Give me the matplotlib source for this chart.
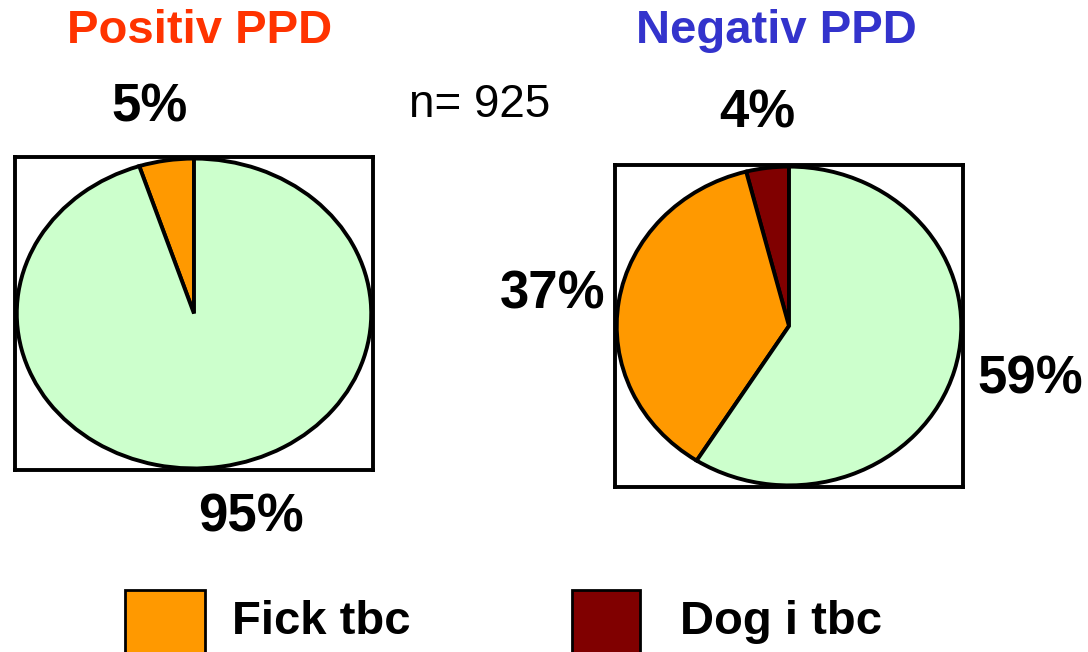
import matplotlib.pyplot as plt
from matplotlib.patches import Rectangle

plt.rcParams['font.family'] = ['Liberation Sans', 'DejaVu Sans']

# data
pos_labels = ['Fick tbc', 'Ingen tbc']
pos_values = [5, 95]
neg_labels = ['Dog i tbc', 'Fick tbc', 'Ingen tbc']
neg_values = [4, 37, 59]
n_total = 925

colors = {'Fick tbc': '#FF9900', 'Dog i tbc': '#800000', 'Ingen tbc': '#CCFFCC'}

fig = plt.figure(figsize=(10.88, 6.52), dpi=100)

def draw_pie(rect, labels, values):
    ax = fig.add_axes(rect)
    ax.pie(values, colors=[colors[l] for l in labels], startangle=90,
           counterclock=True, radius=1.0,
           wedgeprops=dict(edgecolor='black', linewidth=2.8))
    ax.set_aspect('auto')
    ax.set_xlim(-1.01, 1.01)
    ax.set_ylim(-1.01, 1.01)
    ax.set_xticks([])
    ax.set_yticks([])
    ax.set_frame_on(True)
    for s in ax.spines.values():
        s.set_visible(True)
        s.set_linewidth(2.8)
        s.set_color('black')
    return ax

draw_pie([15 / 1088, 1 - 470 / 652, 358 / 1088, 313 / 652], pos_labels, pos_values)
draw_pie([615 / 1088, 1 - 487 / 652, 348 / 1088, 322 / 652], neg_labels, neg_values)

def px(x, y):
    return x / 1088, 1 - y / 652

big = dict(fontsize=38, fontweight='bold', ha='center', va='center')

# titles
fig.text(*px(200, 31), 'Positiv PPD', color='#FF3300', fontsize=34,
         fontweight='bold', ha='center', va='center')
fig.text(*px(776, 31), 'Negativ PPD', color='#3333CC', fontsize=34,
         fontweight='bold', ha='center', va='center')
fig.text(*px(480, 105), f'n= {n_total}', fontsize=33, ha='center', va='center')

# percent labels
fig.text(*px(150, 108), f'{pos_values[0]}%', **big)
fig.text(*px(251, 518), f'{pos_values[1]}%', **big)
fig.text(*px(757, 113), f'{neg_values[0]}%', **big)
fig.text(*px(553, 295), f'{neg_values[1]}%', **big)
fig.text(*px(1030, 380), f'{neg_values[2]}%', **big)

# legend
legend_items = ['Fick tbc', 'Dog i tbc']
sq_x = [125, 572]
sq_w = [80, 68]
txt_x = [232, 680]
for name, x, w, tx in zip(legend_items, sq_x, sq_w, txt_x):
    fig.add_artist(Rectangle(px(x, 670), w / 1088, 80 / 652,
                             transform=fig.transFigure, facecolor=colors[name],
                             edgecolor='black', linewidth=2))
    fig.text(*px(tx, 622), name, fontsize=34, fontweight='bold',
             ha='left', va='center')

fig.savefig('out.png', dpi=100)
